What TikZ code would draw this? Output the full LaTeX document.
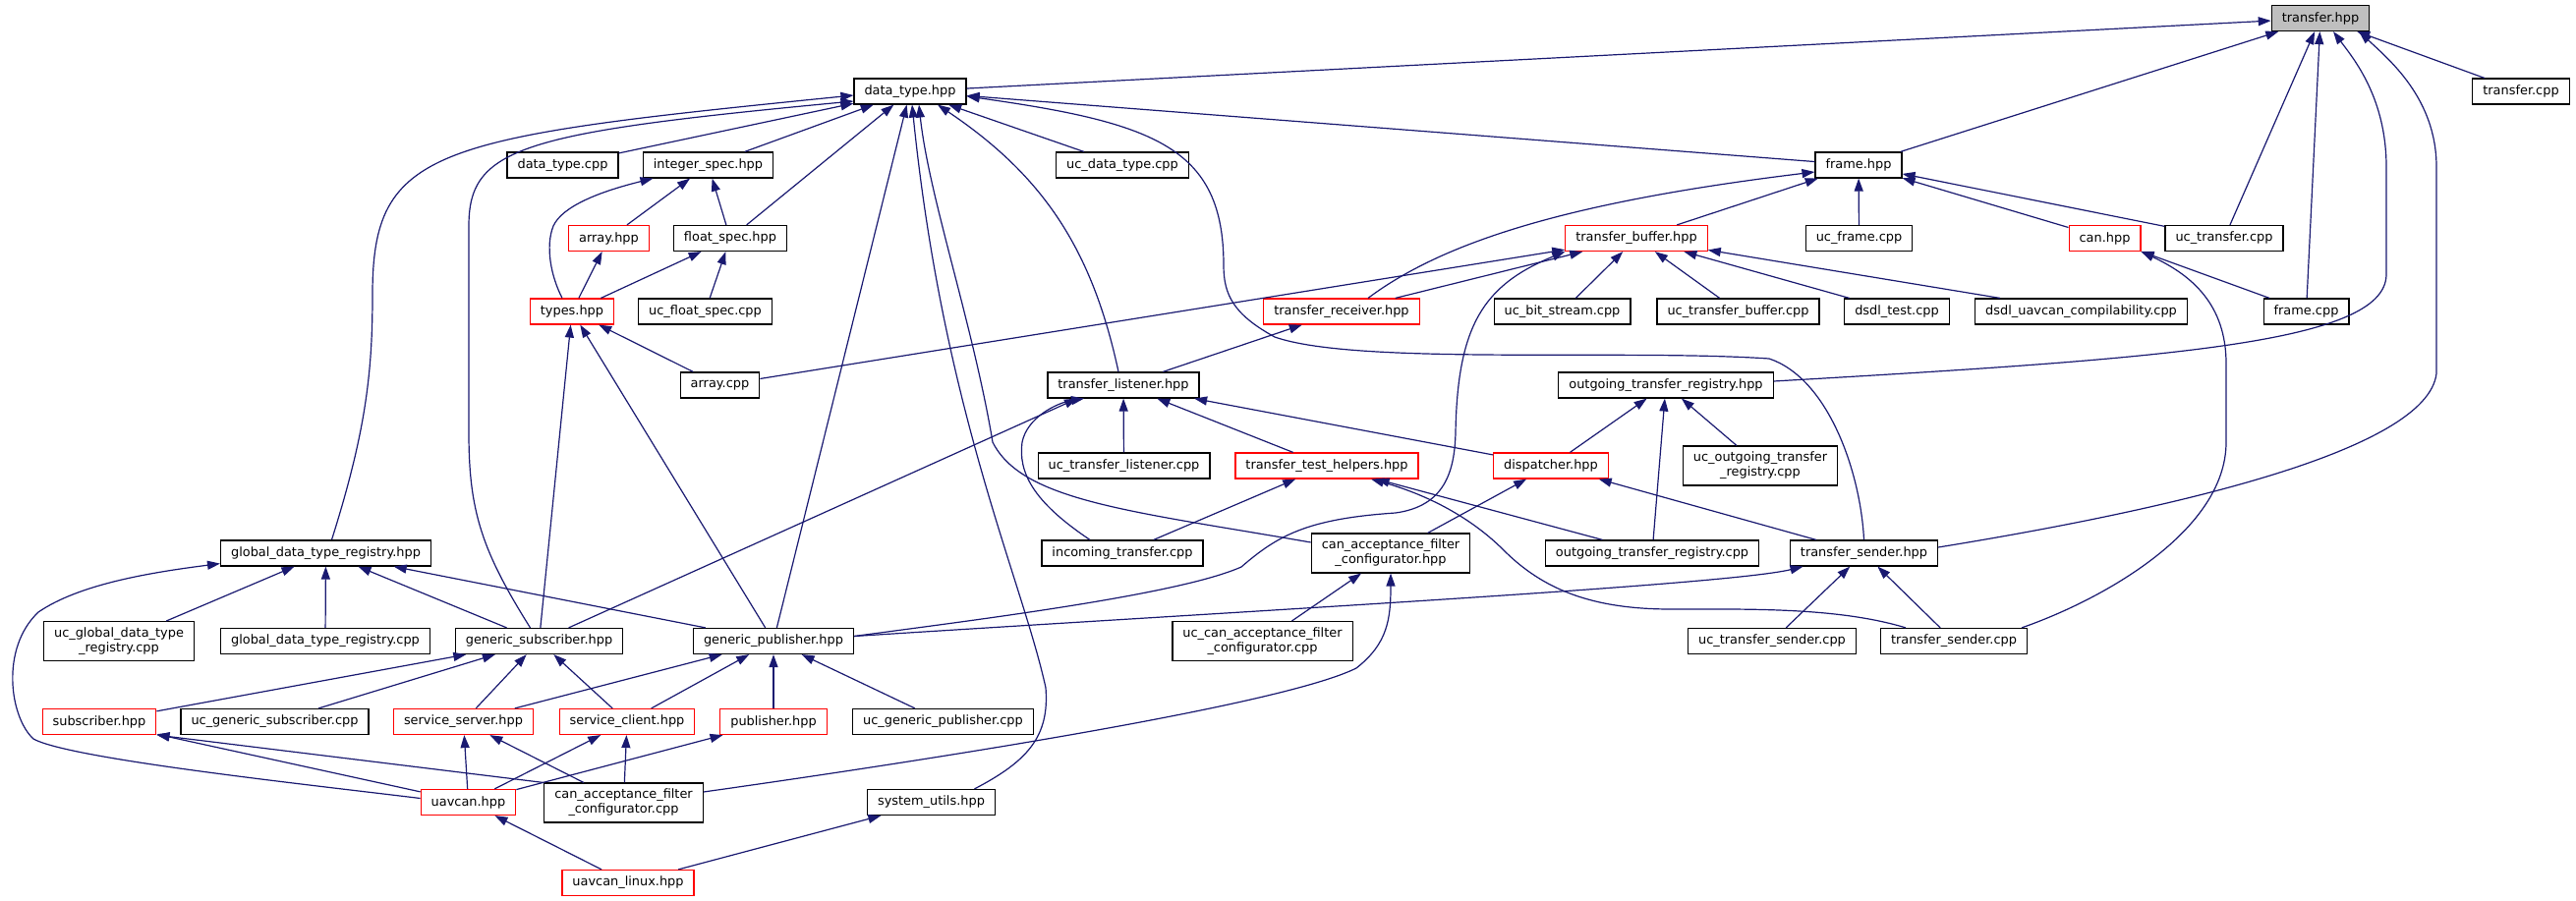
\documentclass[tikz,border=0pt]{standalone}
\usepackage{fontspec}
\setmainfont{DejaVu Sans}
\usepackage{xcolor}
\definecolor{dxEdge}{RGB}{25, 25,112}
\definecolor{dxRed} {RGB}{255, 0,  0}
\definecolor{dxRoot}{RGB}{191,191,191}
\usetikzlibrary{arrows.meta}

\begin{document}
\begin{tikzpicture}[
  x=1pt, y=1pt,
  font=\fontsize{12.9pt}{15pt}\selectfont,
  file/.style={draw=black, fill=white, line width=1.2pt, inner xsep=10.5pt, inner ysep=6pt, minimum height=26pt, align=center},
  redfile/.style={file, draw=dxRed},
  rootfile/.style={file, fill=dxRoot},
  edge/.style={draw=dxEdge, line width=1.2pt, -{Triangle[length=13pt,width=9pt]}},
]
  \useasboundingbox (0,0) rectangle (2621,-917);

  % Files, row by row (red border = file with more includers not shown)
  \node[rootfile] (xferh)   at (2361,-18.5) {transfer.hpp};
  \node[file]     (dtype)   at (926,-93)    {data\_type.hpp};
  \node[file]     (xfercpp) at (2565,-93)   {transfer.cpp};

  \node[file]     (dtcpp)   at (572.5,-168) {data\_type.cpp};
  \node[file]     (intspec) at (720.5,-168) {integer\_spec.hpp};
  \node[file]     (ucdt)    at (1142,-168)  {uc\_data\_type.cpp};
  \node[file]     (frameh)  at (1891,-168)  {frame.hpp};

  \node[redfile]  (arrh)    at (619.5,-242.5)  {array.hpp};
  \node[file]     (fspec)   at (743,-242.5)    {float\_spec.hpp};
  \node[redfile]  (tbuf)    at (1665,-242.5)   {transfer\_buffer.hpp};
  \node[file]     (ucframe) at (1891.5,-242.5) {uc\_frame.cpp};
  \node[redfile]  (canh)    at (2141.5,-242.5) {can.hpp};
  \node[file]     (ucxfer)  at (2263,-242.5)   {uc\_transfer.cpp};

  \node[redfile]  (typesh)   at (582,-317)    {types.hpp};
  \node[file]     (ucfspec)  at (717.5,-317)  {uc\_float\_spec.cpp};
  \node[redfile]  (trecv)    at (1365,-317)   {transfer\_receiver.hpp};
  \node[file]     (ucbits)   at (1589.5,-317) {uc\_bit\_stream.cpp};
  \node[file]     (uctbuf)   at (1768.5,-317) {uc\_transfer\_buffer.cpp};
  \node[file]     (dsdltest) at (1930,-317)   {dsdl\_test.cpp};
  \node[file]     (dsdlcomp) at (2117.5,-317) {dsdl\_uavcan\_compilability.cpp};
  \node[file]     (framecpp) at (2346.5,-317) {frame.cpp};

  \node[file]     (arrcpp)  at (732.5,-392) {array.cpp};
  \node[file]     (tlist)   at (1143,-392)  {transfer\_listener.hpp};
  \node[file]     (otreg)   at (1695,-392)  {outgoing\_transfer\_registry.hpp};

  \node[file]     (uctlist) at (1143.5,-474) {uc\_transfer\_listener.cpp};
  \node[redfile]  (tthelp)  at (1350,-474)   {transfer\_test\_helpers.hpp};
  \node[redfile]  (disp)    at (1578,-474)   {dispatcher.hpp};
  \node[file]     (ucotreg) at (1791,-474)   {uc\_outgoing\_transfer\\\_registry.cpp};

  \node[file]     (gdtr)     at (331.5,-563)  {global\_data\_type\_registry.hpp};
  \node[file]     (incxfer)  at (1142,-563)   {incoming\_transfer.cpp};
  \node[file]     (cafch)    at (1415,-563)   {can\_acceptance\_filter\\\_configurator.hpp};
  \node[file]     (otregcpp) at (1681,-563)   {outgoing\_transfer\_registry.cpp};
  \node[file]     (tsend)    at (1896.5,-563) {transfer\_sender.hpp};

  \node[file]     (ucgdtr)   at (121,-652.5)    {uc\_global\_data\_type\\\_registry.cpp};
  \node[file]     (gdtrcpp)  at (331,-652.5)    {global\_data\_type\_registry.cpp};
  \node[file]     (gsub)     at (548.5,-652.5)  {generic\_subscriber.hpp};
  \node[file]     (gpub)     at (787,-652.5)    {generic\_publisher.hpp};
  \node[file]     (ucafc)    at (1284.5,-652.5) {uc\_can\_acceptance\_filter\\\_configurator.cpp};
  \node[file]     (uctsend)  at (1803,-652.5)   {uc\_transfer\_sender.cpp};
  \node[file]     (tsendcpp) at (1988,-652.5)   {transfer\_sender.cpp};

  \node[redfile]  (subh)   at (101,-734.5)   {subscriber.hpp};
  \node[file]     (ucgsub) at (279.5,-734.5) {uc\_generic\_subscriber.cpp};
  \node[redfile]  (ssrv)   at (471.5,-734.5) {service\_server.hpp};
  \node[redfile]  (scli)   at (638,-734.5)   {service\_client.hpp};
  \node[redfile]  (pubh)   at (787,-734.5)   {publisher.hpp};
  \node[file]     (ucgpub) at (959.5,-734.5) {uc\_generic\_publisher.cpp};

  \node[redfile]  (uavh)    at (476.5,-816.5) {uavcan.hpp};
  \node[file]     (cafccpp) at (634.5,-817)   {can\_acceptance\_filter\\\_configurator.cpp};
  \node[file]     (sysu)    at (947.5,-816.5) {system\_utils.hpp};
  \node[redfile]  (uavlin)  at (639,-898.5)   {uavcan\_linux.hpp};

  % Include edges into transfer.hpp
  \draw[edge] (dtype) -- (xferh);
  \draw[edge] (frameh) -- (xferh);
  \draw[edge] (ucxfer) -- (xferh);
  \draw[edge] (framecpp) -- (xferh);
  \draw[edge] (xfercpp) -- (xferh);
  \draw[edge] ([yshift=4pt]otreg.east) .. controls (2200,-365) and (2426,-350) .. (2428,-280)
    -- (2428,-170) .. controls (2428,-100) and (2395,-60) .. ([xshift=13pt]xferh.south);
  \draw[edge] ([yshift=6pt]tsend.east) .. controls (2200,-520) and (2470,-460) .. (2479,-380)
    -- (2479,-170) .. controls (2479,-100) and (2430,-60) .. ([xshift=-11pt]xferh.south east);

  % Include edges into data_type.hpp
  \draw[edge] ([xshift=6pt]gdtr.north) .. controls (372,-440) and (379,-380) .. (379,-300)
    .. controls (379,-150) and (440,-140) .. ([yshift=-4pt]dtype.west);
  \draw[edge] ([xshift=-9pt]gsub.north) .. controls (490,-560) and (477,-520) .. (477,-440)
    -- (477,-230) .. controls (477,-150) and (530,-135) .. ([yshift=-10pt]dtype.west);
  \draw[edge] (dtcpp) -- (dtype);
  \draw[edge] (intspec) -- (dtype);
  \draw[edge] (fspec) -- (dtype);
  \draw[edge] (gpub) -- (dtype);
  \draw[edge] ([xshift=44pt]sysu.north) .. controls (1045,-775) and (1068,-750) .. (1064,-700)
    .. controls (1040,-590) and (960,-420) .. ([xshift=2pt]dtype.south);
  \draw[edge] ([yshift=11pt]cafch.west) .. controls (1150,-520) and (1040,-510) .. (1010,-450)
    .. controls (990,-330) and (945,-200) .. ([xshift=9pt]dtype.south);
  \draw[edge] ([xshift=-5pt]tlist.north) to[bend right=22] ([xshift=28pt]dtype.south);
  \draw[edge] (ucdt) -- (dtype);
  \draw[edge] (tsend.north) .. controls (1893,-480) and (1860,-385) .. (1800,-365)
    .. controls (1650,-355) and (1380,-372) .. (1297,-343)
    .. controls (1255,-320) and (1245,-300) .. (1245,-270)
    .. controls (1245,-150) and (1175,-125) .. ([yshift=-5pt]dtype.east);
  \draw[edge] (frameh) -- (dtype);

  % integer_spec, array, float_spec, types
  \draw[edge] ([xshift=-10pt]typesh.north) .. controls (560,-280) and (555,-250) .. (563,-230)
    .. controls (572,-210) and (610,-195) .. ([xshift=-56pt]intspec.south);
  \draw[edge] (arrh) -- (intspec);
  \draw[edge] (fspec) -- (intspec);
  \draw[edge] (typesh) -- (arrh);
  \draw[edge] (typesh) -- (fspec);
  \draw[edge] (ucfspec) -- (fspec);
  \draw[edge] (arrcpp) -- (typesh);
  \draw[edge] (gsub) -- (typesh);
  \draw[edge] (gpub) -- (typesh);

  % transfer_buffer, frame, can
  \draw[edge] (arrcpp) -- (tbuf);
  \draw[edge] (trecv) -- (tbuf);
  \draw[edge] ([yshift=5pt]gpub.east) .. controls (1000,-630) and (1200,-605) .. (1263,-577)
    .. controls (1300,-545) and (1330,-528) .. (1420,-522)
    .. controls (1470,-515) and (1480,-480) .. (1481,-440)
    .. controls (1483,-330) and (1510,-290) .. (tbuf.south west);
  \draw[edge] (ucbits) -- (tbuf);
  \draw[edge] (uctbuf) -- (tbuf);
  \draw[edge] (dsdltest) -- (tbuf);
  \draw[edge] (dsdlcomp) -- (tbuf);
  \draw[edge] (tbuf) -- (frameh);
  \draw[edge] ([xshift=27pt]trecv.north) .. controls (1470,-245) and (1600,-205) .. ([yshift=-7pt]frameh.west);
  \draw[edge] (ucframe) -- (frameh);
  \draw[edge] (canh) -- (frameh);
  \draw[edge] (ucxfer) -- (frameh);
  \draw[edge] (framecpp) -- (canh);
  \draw[edge] ([xshift=69pt]tsendcpp.north) .. controls (2140,-610) and (2265,-540) .. (2265,-450)
    -- (2265,-370) .. controls (2265,-310) and (2230,-280) .. (canh.south east);

  % registry, receiver, listener
  \draw[edge] (disp) -- (otreg);
  \draw[edge] (otregcpp) -- (otreg);
  \draw[edge] (ucotreg) -- (otreg);
  \draw[edge] (tlist) -- (trecv);
  \draw[edge] (gsub) -- ([xshift=-47pt]tlist.south);
  \draw[edge] ([xshift=-33pt]incxfer.north) .. controls (1050,-510) and (1036,-480) .. (1040,-450)
    .. controls (1045,-425) and (1075,-410) .. ([xshift=-40pt]tlist.south);
  \draw[edge] (uctlist) -- (tlist);
  \draw[edge] (tthelp) -- (tlist);
  \draw[edge] (disp) -- (tlist);

  % dispatcher, test helpers, filter configurator, sender
  \draw[edge] (cafch) -- (disp);
  \draw[edge] (tsend) -- (disp);
  \draw[edge] (incxfer) -- (tthelp);
  \draw[edge] (otregcpp) -- (tthelp);
  \draw[edge] ([xshift=-49pt]tsendcpp.north) .. controls (1870,-618) and (1780,-620) .. (1700,-620)
    .. controls (1620,-620) and (1570,-600) .. (1530,-560)
    .. controls (1490,-520) and (1440,-500) .. ([xshift=45pt]tthelp.south);
  \draw[edge] (ucafc) -- (cafch);
  \draw[edge] ([yshift=11pt]cafccpp.east) .. controls (900,-780) and (1300,-720) .. (1380,-680)
    .. controls (1412,-655) and (1415,-630) .. (cafch.south);
  \draw[edge] ([yshift=5pt]gpub.east) .. controls (1300,-620) and (1760,-595) .. ([xshift=-62pt]tsend.south);
  \draw[edge] (uctsend) -- (tsend);
  \draw[edge] (tsendcpp) -- (tsend);

  % registry, subscriber, publisher side
  \draw[edge] (ucgdtr) -- (gdtr);
  \draw[edge] (gdtrcpp) -- (gdtr);
  \draw[edge] (gsub) -- (gdtr);
  \draw[edge] (gpub) -- (gdtr);
  \draw[edge] ([yshift=4pt]uavh.west) .. controls (300,-797) and (70,-772) .. (34,-752)
    .. controls (10,-730) and (0,-660) .. (39,-623)
    .. controls (80,-595) and (150,-583) .. ([yshift=3pt]gdtr.south west);
  \draw[edge] (subh) -- (gsub);
  \draw[edge] (ucgsub) -- (gsub);
  \draw[edge] (ssrv) -- (gsub);
  \draw[edge] (scli) -- (gsub);
  \draw[edge] (ssrv) -- (gpub);
  \draw[edge] (scli) -- (gpub);
  \draw[edge] (pubh) -- (gpub);
  \draw[edge] (ucgpub) -- (gpub);
  \draw[edge] (uavh) -- (subh);
  \draw[edge] (cafccpp.north west) -- (subh.south east);
  \draw[edge] (uavh) -- (ssrv);
  \draw[edge] (cafccpp) -- (ssrv);
  \draw[edge] (uavh) -- (scli);
  \draw[edge] (cafccpp) -- (scli);
  \draw[edge] (uavh) -- (pubh);
  \draw[edge] (uavlin) -- (uavh);
  \draw[edge] (uavlin) -- (sysu);
\end{tikzpicture}
\end{document}
